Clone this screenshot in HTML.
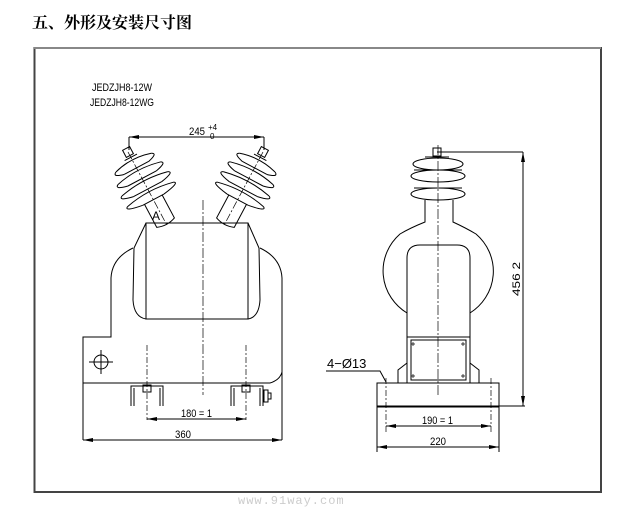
<!DOCTYPE html>
<html><head><meta charset="utf-8"><style>
body{margin:0;background:#fff;width:629px;height:512px;overflow:hidden}
svg{display:block}
</style></head><body>
<svg width="629" height="512" viewBox="0 0 629 512" xmlns="http://www.w3.org/2000/svg" font-family="Liberation Sans, sans-serif">
<defs>
<marker id="a" viewBox="0 0 10 4" refX="10" refY="2" markerWidth="10" markerHeight="4" orient="auto-start-reverse"><path d="M0,0 L10,2 L0,4z" fill="#000"/></marker>
</defs>
<text x="32" y="28" font-family="Liberation Serif, Noto Serif CJK SC, serif" font-size="16" font-weight="bold">五、外形及安装尺寸图</text>
<rect x="34.5" y="48" width="566.5" height="444" fill="none" stroke="#444" stroke-width="2"/>
<line x1="34" y1="48" x2="601" y2="48" stroke="#888" stroke-width="2"/>
<g fill="none" stroke="#000" stroke-width="1">
<text x="92" y="91" font-family="Liberation Sans Narrow, Liberation Sans, sans-serif" font-size="11" fill="#000" stroke="none" textLength="60" lengthAdjust="spacingAndGlyphs">JEDZJH8-12W</text>
<text x="90" y="106" font-family="Liberation Sans Narrow, Liberation Sans, sans-serif" font-size="11" fill="#000" stroke="none" textLength="64" lengthAdjust="spacingAndGlyphs">JEDZJH8-12WG</text>
<!-- 245 dim -->
<line x1="129" y1="137" x2="264" y2="137" marker-start="url(#a)" marker-end="url(#a)"/>
<line x1="129" y1="137" x2="129" y2="150"/><line x1="264" y1="137" x2="264" y2="150"/>
<text x="189" y="135" font-family="Liberation Sans Narrow, Liberation Sans, sans-serif" font-size="11" fill="#000" stroke="none" textLength="16" lengthAdjust="spacingAndGlyphs">245</text>
<text x="208" y="130" font-size="8" fill="#000" stroke="none">+4</text>
<text x="210" y="139" font-size="8" fill="#000" stroke="none">0</text>
<!-- insulators -->
<g transform="translate(128,152) rotate(-28)">
<rect x="-4" y="-4" width="8" height="8"/>
<path d="M-7,6 L7,6 M-20,12 Q0,6 20,12 M-14,18 L14,18 M-24,24 Q0,18 24,24 M-16,30 L16,30 M-26,36 Q0,30 26,36 M-16,42 L16,42 M-26,48 Q0,42 26,48 M-12,54 L12,54"/>
<path d="M-20,12 Q-26,15 -14,18 M20,12 Q26,15 14,18 M-24,24 Q-30,27 -16,30 M24,24 Q30,27 16,30 M-26,36 Q-32,39 -16,42 M26,36 Q32,39 16,42 M-26,48 Q-32,51 -12,54 M26,48 Q32,51 12,54"/>
<path d="M-10,54 L-10,80 Q0,84 10,80 L10,54"/>
<line x1="0" y1="0" x2="0" y2="82" stroke-dasharray="8,2,2,2" stroke-width="0.7"/>
</g>
<text x="152" y="220" font-size="12" fill="#000" stroke="none">A</text>
<g transform="translate(263,152) rotate(28)">
<rect x="-4" y="-4" width="8" height="8"/>
<path d="M-7,6 L7,6 M-20,12 Q0,6 20,12 M-14,18 L14,18 M-24,24 Q0,18 24,24 M-16,30 L16,30 M-26,36 Q0,30 26,36 M-16,42 L16,42 M-26,48 Q0,42 26,48 M-12,54 L12,54"/>
<path d="M-20,12 Q-26,15 -14,18 M20,12 Q26,15 14,18 M-24,24 Q-30,27 -16,30 M24,24 Q30,27 16,30 M-26,36 Q-32,39 -16,42 M26,36 Q32,39 16,42 M-26,48 Q-32,51 -12,54 M26,48 Q32,51 12,54"/>
<path d="M-10,54 L-10,80 Q0,84 10,80 L10,54"/>
<line x1="0" y1="0" x2="0" y2="82" stroke-dasharray="8,2,2,2" stroke-width="0.7"/>
</g>
<!-- body -->
<line x1="170" y1="223" x2="228" y2="223"/>
<rect x="146" y="223" width="102" height="96" fill="none"/>
<path d="M146,223 L134,248 L133,300 Q134,317 146,319"/>
<path d="M248,223 L259,248 L260,300 Q259,317 248,319"/>
<path d="M133,248 Q112,258 111,278 L111,337 L83,337 L83,440"/>
<path d="M260,248 Q281,258 282,278 L282,372 Q280,380 270,383"/>
<line x1="282" y1="372" x2="282" y2="440"/>
<line x1="83" y1="383" x2="270" y2="383"/>
<line x1="203" y1="200" x2="203" y2="395" stroke-dasharray="10,2,2,2" stroke-width="0.7"/>
<circle cx="101" cy="362" r="7"/>
<line x1="89" y1="362" x2="113" y2="362"/><line x1="101" y1="350" x2="101" y2="374"/>
<!-- brackets -->
<path d="M131,406 L131,386 L163,386 L163,406 M134,406 L134,388 M160,406 L160,388"/>
<path d="M231,406 L231,386 L263,386 L263,406 M234,406 L234,388 M260,406 L260,388"/>
<rect x="143" y="385" width="8" height="7"/><rect x="242" y="385" width="8" height="7"/>
<rect x="264" y="390" width="4" height="12"/><rect x="268" y="393" width="3" height="6"/>
<line x1="147" y1="345" x2="147" y2="420" stroke-dasharray="6,2,2,2" stroke-width="0.7"/>
<line x1="246" y1="345" x2="246" y2="420" stroke-dasharray="6,2,2,2" stroke-width="0.7"/>
<line x1="147" y1="419" x2="246" y2="419" marker-start="url(#a)" marker-end="url(#a)"/>
<text x="181" y="417" font-family="Liberation Sans Narrow, Liberation Sans, sans-serif" font-size="11" fill="#000" stroke="none" textLength="31" lengthAdjust="spacingAndGlyphs">180 = 1</text>
<line x1="83" y1="440" x2="282" y2="440" marker-start="url(#a)" marker-end="url(#a)"/>
<text x="175" y="438" font-family="Liberation Sans Narrow, Liberation Sans, sans-serif" font-size="11" fill="#000" stroke="none" textLength="16" lengthAdjust="spacingAndGlyphs">360</text>
<!-- right view -->
<rect x="433" y="148" width="8" height="8"/>
<line x1="437" y1="152" x2="523" y2="152"/>
<line x1="523" y1="152" x2="523" y2="406" marker-start="url(#a)" marker-end="url(#a)"/>
<line x1="377" y1="406" x2="525" y2="406"/>
<text transform="translate(520,296) rotate(-90)" font-family="Liberation Sans Narrow, Liberation Sans, sans-serif" font-size="11" fill="#000" stroke="none" textLength="34" lengthAdjust="spacingAndGlyphs">456  2</text>
<path d="M425,157 L449,157"/>
<ellipse cx="438" cy="164" rx="25" ry="6"/>
<ellipse cx="438" cy="176" rx="27" ry="6"/>
<ellipse cx="438" cy="194" rx="27" ry="6"/>
<line x1="414" y1="170" x2="462" y2="170"/>
<line x1="414" y1="188" x2="462" y2="188"/>
<path d="M425,200 L425,222 Q410,228 400,234 A52,50 0 0 0 407,313 M453,200 L453,222 Q466,228 476,234 A52,50 0 0 1 470,313"/>
<path d="M407,337 L407,258 Q407,245 420,245 L457,245 Q470,245 470,258 L470,337"/>
<rect x="407" y="337" width="63" height="46"/>
<rect x="411" y="340" width="55" height="40"/>
<path d="M413,342 l0,4 M411,344 l4,0 M463,342 l0,4 M461,344 l4,0 M413,374 l0,4 M411,376 l4,0 M463,374 l0,4 M461,376 l4,0" stroke-width="0.7"/>
<path d="M398,383 L398,370 L407,363 M479,383 L479,370 L470,363"/>
<rect x="377" y="383" width="122" height="24"/>
<line x1="438" y1="145" x2="438" y2="395" stroke-dasharray="10,2,2,2" stroke-width="0.7"/>
<line x1="386" y1="378" x2="386" y2="432" stroke-dasharray="6,2,2,2" stroke-width="0.7"/>
<line x1="491" y1="378" x2="491" y2="432" stroke-dasharray="6,2,2,2" stroke-width="0.7"/>
<line x1="377" y1="407" x2="377" y2="452"/><line x1="499" y1="407" x2="499" y2="452"/>
<line x1="386" y1="426" x2="491" y2="426" marker-start="url(#a)" marker-end="url(#a)"/>
<text x="422" y="424" font-family="Liberation Sans Narrow, Liberation Sans, sans-serif" font-size="11" fill="#000" stroke="none" textLength="31" lengthAdjust="spacingAndGlyphs">190 = 1</text>
<line x1="377" y1="447" x2="499" y2="447" marker-start="url(#a)" marker-end="url(#a)"/>
<text x="430" y="445" font-family="Liberation Sans Narrow, Liberation Sans, sans-serif" font-size="11" fill="#000" stroke="none" textLength="16" lengthAdjust="spacingAndGlyphs">220</text>
<text x="327" y="368" font-size="13" fill="#000" stroke="none">4−Ø13</text>
<path d="M326,371 L380,371 L386,382"/>
</g>
<text x="238" y="504" font-family="Liberation Mono, monospace" font-size="12" fill="#ccc" letter-spacing="1">www.91way.com</text>
</svg>
</body></html>
